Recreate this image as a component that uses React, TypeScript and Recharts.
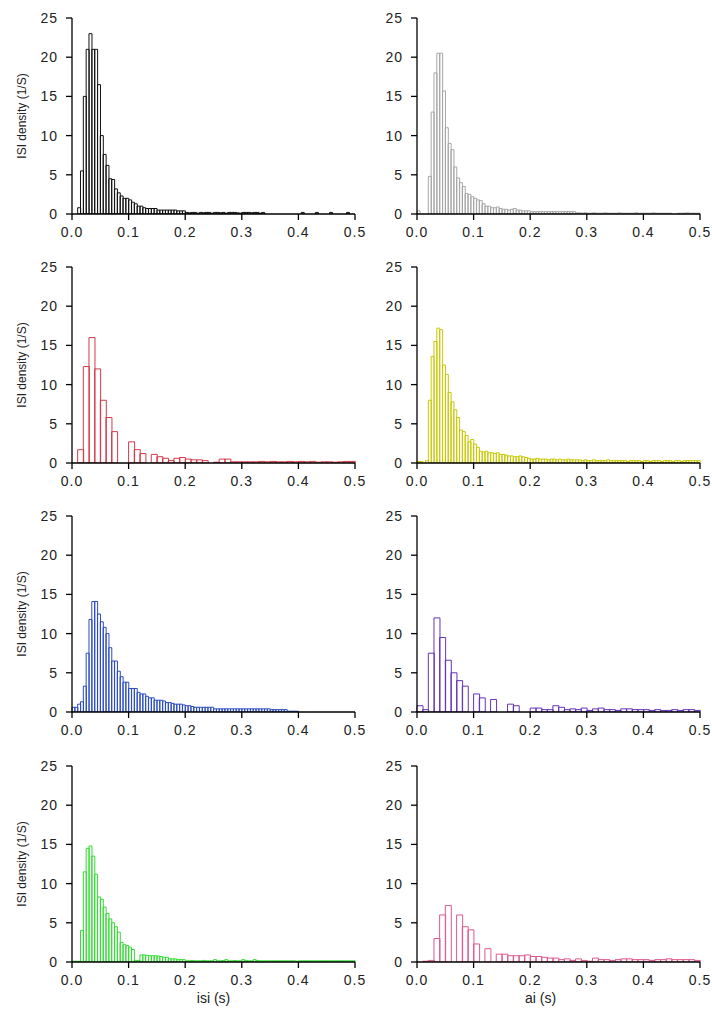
import { Bar, BarChart, Label, XAxis, YAxis } from "recharts";

const X_TICKS = [0, 0.1, 0.2, 0.3, 0.4, 0.5];
const Y_TICKS = [0, 5, 10, 15, 20, 25];

// histogram heights (ISI density, 1/s) per bin
const blackIsi = [
  0, 0, 0.8, 5.5, 15, 21, 23, 21, 21, 16.5,
  10, 7.6, 6.2, 4.5, 4.4, 3.2, 2.7, 2.3, 2.0, 2.0,
  1.8, 1.5, 1.3, 1.0, 1.0, 0.8, 0.7, 0.7, 0.7, 0.7,
  0.5, 0.5, 0.5, 0.5, 0.5, 0.5, 0.5, 0.4, 0.4, 0.4,
  0.2, 0.15, 0.2, 0.2, 0.1, 0.2, 0.15, 0.2, 0.2, 0.1,
  0.2, 0.2, 0.15, 0.2, 0.1, 0.2, 0.2, 0.2, 0.15, 0.1,
  0.2, 0.2, 0.2, 0.15, 0.2, 0.2, 0.1, 0.2, 0, 0,
  0, 0, 0, 0, 0, 0, 0, 0, 0, 0,
  0, 0.2, 0, 0, 0, 0, 0.2, 0, 0, 0,
  0, 0.2, 0, 0, 0, 0, 0, 0.2, 0, 0,
];

const grayIsi = [
  0.4, 0, 0, 0, 4.8, 13, 18, 20.5, 20.5, 15.7,
  11, 9, 8.2, 6, 4.6, 4.0, 3.5, 2.6, 2.5, 2.2,
  2.0, 1.8, 1.7, 1.3, 1.0, 1.0, 0.8, 0.8, 0.9, 0.7,
  0.6, 0.6, 0.5, 0.6, 0.7, 0.5, 0.5, 0.4, 0.4, 0.4,
  0.3, 0.3, 0.3, 0.3, 0.3, 0.3, 0.3, 0.3, 0.3, 0.3,
  0.3, 0.3, 0.3, 0.3, 0.3, 0.3, 0.15, 0.15, 0.1, 0.15,
  0.1, 0.1, 0.15, 0.1, 0.1, 0.1, 0.15, 0.1, 0.1, 0.1,
  0.1, 0.15, 0.1, 0.1, 0.1, 0.1, 0.1, 0.15, 0.1, 0.1,
  0.1, 0.1, 0.1, 0.15, 0.1, 0.1, 0.1, 0.1, 0.1, 0.1,
  0, 0, 0.1, 0.1, 0.1, 0.15, 0.1, 0.1, 0.1, 0.1,
];

const redIsi = [
  0, 1.7, 12.3, 16, 12, 8, 5.8, 4, 0, 0,
  2.7, 1.7, 1.2, 0, 1.1, 0.8, 0.6, 0.3, 0.6, 0.7,
  0.5, 0.4, 0.4, 0.3, 0, 0.1, 0.5, 0.5, 0.15, 0.15,
  0.15, 0.15, 0.15, 0.2, 0.15, 0.2, 0.15, 0.15, 0.2, 0.15,
  0.2, 0.15, 0.2, 0.1, 0.15, 0.15, 0.1, 0.15, 0.2, 0.2,
];

const yellowIsi = [
  0.2, 0.2, 0, 0.3, 8, 13.6, 15.5, 17.2, 17, 12.5,
  11.3, 9, 7.8, 6.8, 5.8, 4.2, 4.0, 3.5, 2.7, 3.0,
  2.4, 2.0, 1.5, 1.4, 1.5, 1.3, 1.3, 1.2, 1.3, 1.1,
  1.1, 1.0, 0.9, 0.9, 0.8, 0.8, 0.9, 0.8, 0.7, 0.6,
  0.5, 0.5, 0.6, 0.5, 0.5, 0.5, 0.4, 0.5, 0.5, 0.4,
  0.5, 0.4, 0.4, 0.5, 0.4, 0.4, 0.4, 0.4, 0.3, 0.4,
  0.3, 0.3, 0.4, 0.3, 0.3, 0.3, 0.3, 0.4, 0.3, 0.3,
  0.3, 0.3, 0.3, 0.3, 0.2, 0.3, 0.3, 0.3, 0.3, 0.2,
  0.3, 0.3, 0.2, 0.3, 0.3, 0.3, 0.2, 0.3, 0.3, 0.3,
  0.2, 0.3, 0.3, 0.2, 0.3, 0.3, 0.3, 0.3, 0.3, 0.3,
];

const blueIsi = [
  0.6, 0.6, 1.0, 1.3, 3.3, 7.5, 11.8, 14.1, 14.1, 12.5,
  11.5, 10.8, 10, 8.2, 6.5, 6.5, 5.2, 4.5, 3.8, 3.8,
  3.0, 3.0, 3.0, 2.5, 2.3, 2.3, 2.0, 1.8, 1.8, 1.5,
  1.5, 1.5, 1.4, 1.2, 1.2, 1.1, 1.0, 1.0, 1.0, 0.9,
  0.8, 0.8, 0.7, 0.6, 0.6, 0.6, 0.6, 0.6, 0.6, 0.6,
  0.4, 0.4, 0.4, 0.4, 0.4, 0.4, 0.4, 0.4, 0.4, 0.4,
  0.4, 0.4, 0.4, 0.4, 0.4, 0.4, 0.4, 0.4, 0.4, 0.4,
  0.3, 0.3, 0.3, 0.3, 0.3, 0.3, 0.1, 0.1, 0.1, 0.1,
  0, 0, 0, 0, 0, 0, 0, 0, 0, 0,
  0, 0, 0, 0, 0, 0, 0, 0, 0, 0,
];

const purpleIsi = [
  0.8, 0.3, 7.5, 12, 9.5, 6.6, 5, 4, 3.3, 0,
  2.3, 1.8, 0, 1.6, 0, 0, 1.0, 0.8, 0, 0,
  0.5, 0.5, 0.3, 0.3, 0.8, 0.6, 0.3, 0.4, 0.3, 0.5,
  0.2, 0.4, 0.5, 0.3, 0.3, 0.2, 0.4, 0.4, 0.3, 0.3,
  0.3, 0.2, 0.3, 0.2, 0.2, 0.3, 0.2, 0.3, 0.3, 0.2,
];

const greenIsi = [
  0.1, 0.1, 0.1, 4, 11.5, 14.5, 14.8, 13.5, 11.2, 8.3,
  8.0, 7.0, 6.2, 5.5, 5.0, 4.5, 3.8, 2.5, 2.2, 2.1,
  1.9, 1.6, 0.2, 0.2, 0.9, 0.9, 0.85, 0.8, 0.8, 0.8,
  0.75, 0.7, 0.6, 0.6, 0.4, 0.4, 0.4, 0.3, 0.3, 0.3,
  0.15, 0.15, 0.2, 0.15, 0.15, 0.15, 0.2, 0.15, 0.15, 0.15,
  0.3, 0.15, 0.15, 0.2, 0.3, 0.15, 0.15, 0.2, 0.15, 0.15,
  0.3, 0.2, 0.15, 0.15, 0.3, 0.2, 0.15, 0.15, 0.15, 0.15,
  0.15, 0.15, 0.15, 0.15, 0.15, 0.15, 0.15, 0.15, 0.15, 0.1,
  0.15, 0.15, 0.15, 0.15, 0.15, 0.15, 0.15, 0.15, 0.15, 0.15,
  0.15, 0.15, 0.15, 0.15, 0.15, 0.15, 0.15, 0.15, 0.15, 0.15,
];

const pinkIsi = [
  0, 0.1, 0.2, 3, 6, 7.2, 0, 6, 4.5, 4.1,
  2.3, 0, 1.7, 0, 1.0, 1.0, 0.8, 0.8, 0.8, 0.9,
  0.7, 0.7, 0.6, 0.5, 0.5, 0.3, 0.4, 0.2, 0.4, 0.2,
  0.1, 0.5, 0.3, 0.3, 0.2, 0.3, 0.4, 0.4, 0.3, 0.3,
  0.3, 0.2, 0.3, 0.3, 0.4, 0.3, 0.3, 0.3, 0.3, 0.2,
];

const FONT = "'Liberation Sans', Arial, sans-serif";
const TICK_STYLE = { fontFamily: FONT, fontSize: 14, fill: "#222", letterSpacing: 1 };
const AXIS_LINE = { stroke: "#000", strokeWidth: 1.3 };

const PLOT_H = 196;
const TOP_PAD = 10;
const CHART_W = 366;
const RIGHT_PAD = 11;

type PanelProps = {
  values: number[];
  binWidth: number;
  color: string;
  left: number;
  plotTop: number;
  yLabel?: string;
  xLabel?: string;
  xLabelShift?: number;
};

function Panel({ values, binWidth, color, left, plotTop, yLabel, xLabel, xLabelShift = 0 }: PanelProps) {
  const data = values.map((v, i) => ({
    bin: (i * binWidth).toFixed(3),
    start: i * binWidth,
    density: v,
  }));
  const axisH = xLabel ? 46 : 30;

  return (
    <div style={{ position: "absolute", left, top: plotTop - TOP_PAD }}>
      <BarChart
        width={CHART_W}
        height={TOP_PAD + PLOT_H + axisH}
        data={data}
        margin={{ top: TOP_PAD, right: RIGHT_PAD, bottom: 0, left: 20 }}
        barCategoryGap={0}
        barGap={0}
      >
        {/* bins axis: only places the bars, not drawn */}
        <XAxis xAxisId="bins" dataKey="bin" orientation="top" height={0} hide />
        <XAxis
          xAxisId="isi"
          dataKey="start"
          type="number"
          domain={[0, 0.5]}
          ticks={X_TICKS}
          allowDataOverflow
          interval={0}
          height={axisH}
          tickSize={6}
          tickMargin={7}
          tickFormatter={(v: number) => v.toFixed(1)}
          tick={TICK_STYLE}
          axisLine={AXIS_LINE}
          tickLine={AXIS_LINE}
        >
          {xLabel && (
            <Label
              content={(p: any) => {
                const vb = p.viewBox || { x: 0, y: 0, width: 0, height: 0 };
                return (
                  <text
                    x={vb.x + vb.width / 2 + xLabelShift}
                    y={vb.y + 36}
                    textAnchor="middle"
                    dominantBaseline="central"
                    fontFamily={FONT}
                    fontSize={14}
                    fill="#222"
                  >
                    {xLabel}
                  </text>
                );
              }}
            />
          )}
        </XAxis>
        <YAxis
          domain={[0, 25]}
          ticks={Y_TICKS}
          allowDataOverflow
          interval={0}
          width={52}
          tickSize={6}
          tickMargin={8}
          tick={TICK_STYLE}
          axisLine={AXIS_LINE}
          tickLine={AXIS_LINE}
        >
          {yLabel && (
            <Label
              content={(p: any) => {
                const vb = p.viewBox || { x: 0, y: 0, width: 0, height: 0 };
                const cx = vb.x + 2;
                const cy = vb.y + vb.height / 2;
                return (
                  <text
                    x={cx}
                    y={cy}
                    transform={`rotate(-90, ${cx}, ${cy})`}
                    textAnchor="middle"
                    dominantBaseline="central"
                    fontFamily={FONT}
                    fontSize={12}
                    fill="#222"
                  >
                    {yLabel}
                  </text>
                );
              }}
            />
          )}
        </YAxis>
        <Bar
          xAxisId="bins"
          dataKey="density"
          fill="none"
          stroke={color}
          strokeWidth={1}
          isAnimationActive={false}
        />
      </BarChart>
    </div>
  );
}

const Y_LABEL = "ISI density (1/S)";

export default function App() {
  return (
    <div
      style={{
        position: "absolute",
        left: 0,
        top: 0,
        width: 712,
        height: 1018,
        overflow: "hidden",
        background: "#fff",
      }}
    >
      <Panel values={blackIsi} binWidth={0.005} color="#111111" left={0} plotTop={18} yLabel={Y_LABEL} />
      <Panel values={grayIsi} binWidth={0.005} color="#a6a6a6" left={345} plotTop={18} />
      <Panel values={redIsi} binWidth={0.01} color="#d43a48" left={0} plotTop={267} yLabel={Y_LABEL} />
      <Panel values={yellowIsi} binWidth={0.005} color="#c9c905" left={345} plotTop={267} />
      <Panel values={blueIsi} binWidth={0.005} color="#2a4bc0" left={0} plotTop={516} yLabel={Y_LABEL} />
      <Panel values={purpleIsi} binWidth={0.01} color="#6633bb" left={345} plotTop={516} />
      <Panel values={greenIsi} binWidth={0.005} color="#33dd33" left={0} plotTop={766} yLabel={Y_LABEL} xLabel="isi (s)" />
      <Panel values={pinkIsi} binWidth={0.01} color="#e0588f" left={345} plotTop={766} xLabel="ai (s)" xLabelShift={-18} />
    </div>
  );
}
